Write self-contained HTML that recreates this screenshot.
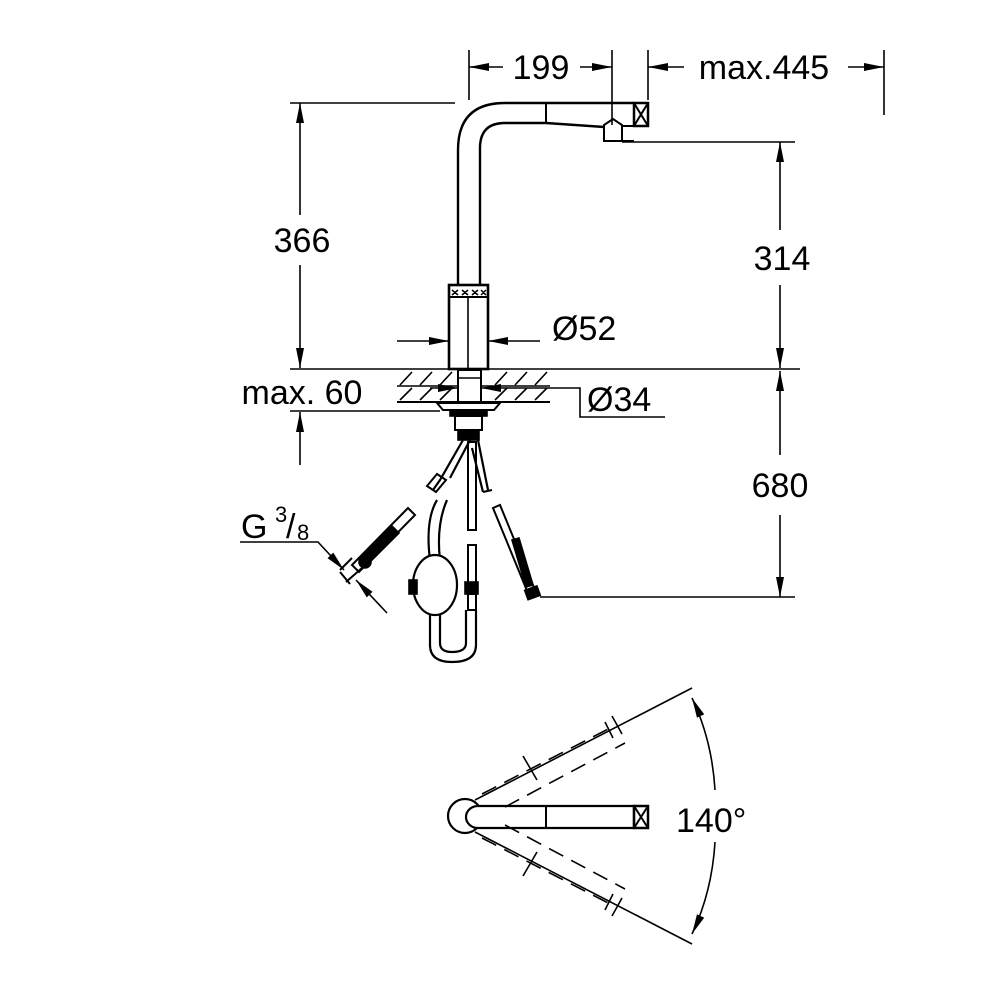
<!DOCTYPE html>
<html><head><meta charset="utf-8"><style>
html,body{margin:0;padding:0;background:#fff}
svg{display:block}
text{font-family:"Liberation Sans",sans-serif;fill:#000}
</style></head><body>
<svg width="1000" height="1000" viewBox="0 0 1000 1000" xmlns="http://www.w3.org/2000/svg">
<defs>
<marker id="b" viewBox="0 0 20 8" refX="20" refY="4" markerWidth="20" markerHeight="8" markerUnits="userSpaceOnUse" orient="auto"><path d="M0,0 L20,4 L0,8z" fill="#000"/></marker>
</defs>
<g stroke="#000" fill="none" stroke-width="1.6">
<line x1="469" y1="50" x2="469" y2="100"/>
<line x1="612" y1="50" x2="612" y2="125"/>
<line x1="648" y1="50" x2="648" y2="100"/>
<line x1="884" y1="50" x2="884" y2="115"/>
<line x1="503" y1="67" x2="469" y2="67" marker-end="url(#b)"/>
<line x1="580" y1="67" x2="612" y2="67" marker-end="url(#b)"/>
<line x1="684" y1="67" x2="648" y2="67" marker-end="url(#b)"/>
<line x1="848" y1="67" x2="884" y2="67" marker-end="url(#b)"/>
<line x1="290" y1="103" x2="455" y2="103"/>
<line x1="300" y1="215" x2="300" y2="103" marker-end="url(#b)"/>
<line x1="300" y1="265" x2="300" y2="368" marker-end="url(#b)"/>
<line x1="290" y1="369" x2="800" y2="369"/>
<line x1="300" y1="465" x2="300" y2="412" marker-end="url(#b)"/>
<line x1="290" y1="411" x2="440" y2="411"/>
<line x1="622" y1="142" x2="795" y2="142"/>
<line x1="780" y1="230" x2="780" y2="142" marker-end="url(#b)"/>
<line x1="780" y1="285" x2="780" y2="368" marker-end="url(#b)"/>
<line x1="780" y1="455" x2="780" y2="371" marker-end="url(#b)"/>
<line x1="780" y1="515" x2="780" y2="597" marker-end="url(#b)"/>
<line x1="540" y1="597" x2="795" y2="597"/>
<line x1="397" y1="341" x2="449" y2="341" marker-end="url(#b)"/>
<line x1="540" y1="341" x2="488" y2="341" marker-end="url(#b)"/>
<line x1="430" y1="388" x2="458" y2="388" marker-end="url(#b)"/>
<line x1="510" y1="388" x2="481" y2="388" marker-end="url(#b)"/>
<polyline points="510,388 580,388 580,417 665,417"/>
<path d="M458,285 L458,150 Q458,103 505,103 L634,103" stroke-width="2.4"/>
<path d="M480,285 L480,148 Q480,123 505,123 L546,123 L604,127" stroke-width="2.4"/>
<line x1="546" y1="103" x2="546" y2="123" stroke-width="2"/>
<rect x="634" y="103" width="14" height="23" stroke-width="2.5"/>
<path d="M634,103 L648,126 M648,103 L634,126" stroke-width="2"/>
<path d="M604,141 L604,125 L613,119 L622,125 L622,141 Z M604,141 L634,141" stroke-width="2"/>
<line x1="622" y1="126" x2="634" y2="126" stroke-width="2"/>
<rect x="449" y="285" width="39" height="84" stroke-width="2.6"/>
<line x1="449" y1="297" x2="488" y2="297" stroke-width="2"/>
<path d="M452,290 l6,5 m0,-5 l-6,5 M462,290 l6,5 m0,-5 l-6,5 M472,290 l6,5 m0,-5 l-6,5 M481,290 l5,5 m0,-5 l-5,5" stroke-width="1.5"/>
<line x1="468" y1="297" x2="468" y2="369"/>
<line x1="397" y1="402" x2="550" y2="402" stroke-width="2"/>
<line x1="397" y1="386" x2="550" y2="386"/>
<path d="M400,385 l12,-13 M420,385 l12,-13 M440,385 l12,-13 M495,385 l12,-13 M515,385 l12,-13 M535,385 l12,-13 M400,400 l12,-12 M420,400 l12,-12 M440,400 l12,-12 M495,400 l12,-12 M515,400 l12,-12 M535,400 l12,-12"/>
<rect x="458" y="370" width="23" height="32" fill="#fff" stroke-width="2"/>
<line x1="458" y1="378" x2="481" y2="378"/>
<path d="M437,403 L500,403 L494,410 L443,410 Z" stroke-width="2"/>
<rect x="450" y="410" width="37" height="6" fill="#000"/>
<rect x="455" y="416" width="27" height="14" stroke-width="2"/>
<rect x="458" y="430" width="21" height="10" fill="#000"/>
<path d="M463,440 L440,480 L433,490 M470,440 L450,478" stroke-width="2.2"/>
<path d="M427,486 L436,492 L446,480 L437,474 Z" stroke-width="2"/>
<path d="M478,440 L488,490 M472,448 L483,492" stroke-width="2.2"/>
<line x1="483" y1="492" x2="492" y2="490" stroke-width="2"/>
<rect x="468" y="442" width="8" height="88" stroke-width="2"/>
<rect x="468" y="545" width="8" height="40" stroke-width="2"/>
<rect x="465" y="582" width="13" height="12" fill="#000"/>
<rect x="468" y="594" width="8" height="16" stroke-width="2"/>
<path d="M437,500 Q425,520 430,560 M447,500 Q436,525 440,560" stroke-width="2.2"/>
<ellipse cx="435" cy="585" rx="22" ry="30" fill="#fff" stroke-width="2.2"/>
<rect x="409" y="580" width="8" height="14" fill="#000"/>
<path d="M430,615 L430,645 Q430,662 452,662 Q476,662 476,645 L476,610 M440,615 L440,643 Q440,652 452,652 Q466,652 466,643 L466,610" stroke-width="2.2"/>
<path d="M352,565 L408,508 L415,515 L359,572 Z" stroke-width="2"/>
<path d="M362,556 L392,526 L399,533 L369,563 Z" fill="#000"/>
<circle cx="365" cy="562" r="6" fill="#000"/>
<path d="M340,570 L352,558 M346,582 L362,568 M340,572 L350,584" stroke-width="2"/>
<path d="M493,508 L500,505 L537,595 L530,598 Z" stroke-width="2"/>
<path d="M512,540 L519,538 L533,585 L526,587 Z" fill="#000"/>
<rect x="526" y="588" width="13" height="10" fill="#000" transform="rotate(-20 532 593)"/>
<polyline points="240,542 318,542 344,570" marker-end="url(#b)"/>
<line x1="387" y1="613" x2="356" y2="580" marker-end="url(#b)"/>
<circle cx="465" cy="816" r="17" stroke-width="2.2"/>
<path d="M478,806 L634,806 L634,828 L478,828 A12,11 0 0 1 478,806" fill="#fff" stroke-width="2.2"/>
<line x1="546" y1="806" x2="546" y2="828" stroke-width="2"/>
<rect x="634" y="806" width="14" height="22" stroke-width="2.5"/>
<path d="M634,806 L648,828 M648,806 L634,828" stroke-width="2"/>
<line x1="475" y1="800" x2="692" y2="688"/>
<line x1="475" y1="832" x2="692" y2="944"/>
<path d="M482,794 L612,727 M505,807 L625,743 M482,838 L612,905 M505,825 L625,889" stroke-dasharray="16,9"/>
<path d="M530,768 l-7,-12 m7,12 l7,12 M605,722 l8,16 M612,716 l10,18 M530,864 l-7,12 m7,-12 l7,-12 M605,910 l8,-16 M612,916 l10,-18"/>
<path d="M715,790 Q712,740 692,698" marker-end="url(#b)"/>
<path d="M715,842 Q712,892 692,934" marker-end="url(#b)"/>
</g>
<g font-size="34">
<text x="541" y="79" text-anchor="middle">199</text>
<text x="764" y="79" text-anchor="middle">max.445</text>
<text x="302" y="252" text-anchor="middle">366</text>
<text x="302" y="404" text-anchor="middle">max. 60</text>
<text x="782" y="270" text-anchor="middle">314</text>
<text x="780" y="497" text-anchor="middle">680</text>
<text x="552" y="340">Ø52</text>
<text x="587" y="411">Ø34</text>
<text x="676" y="832">140°</text>
<text x="241" y="538">G</text>
<text x="275" y="522" font-size="22">3</text>
<text x="286" y="538">/</text>
<text x="297" y="540" font-size="22">8</text>
</g>
</svg>
</body></html>
